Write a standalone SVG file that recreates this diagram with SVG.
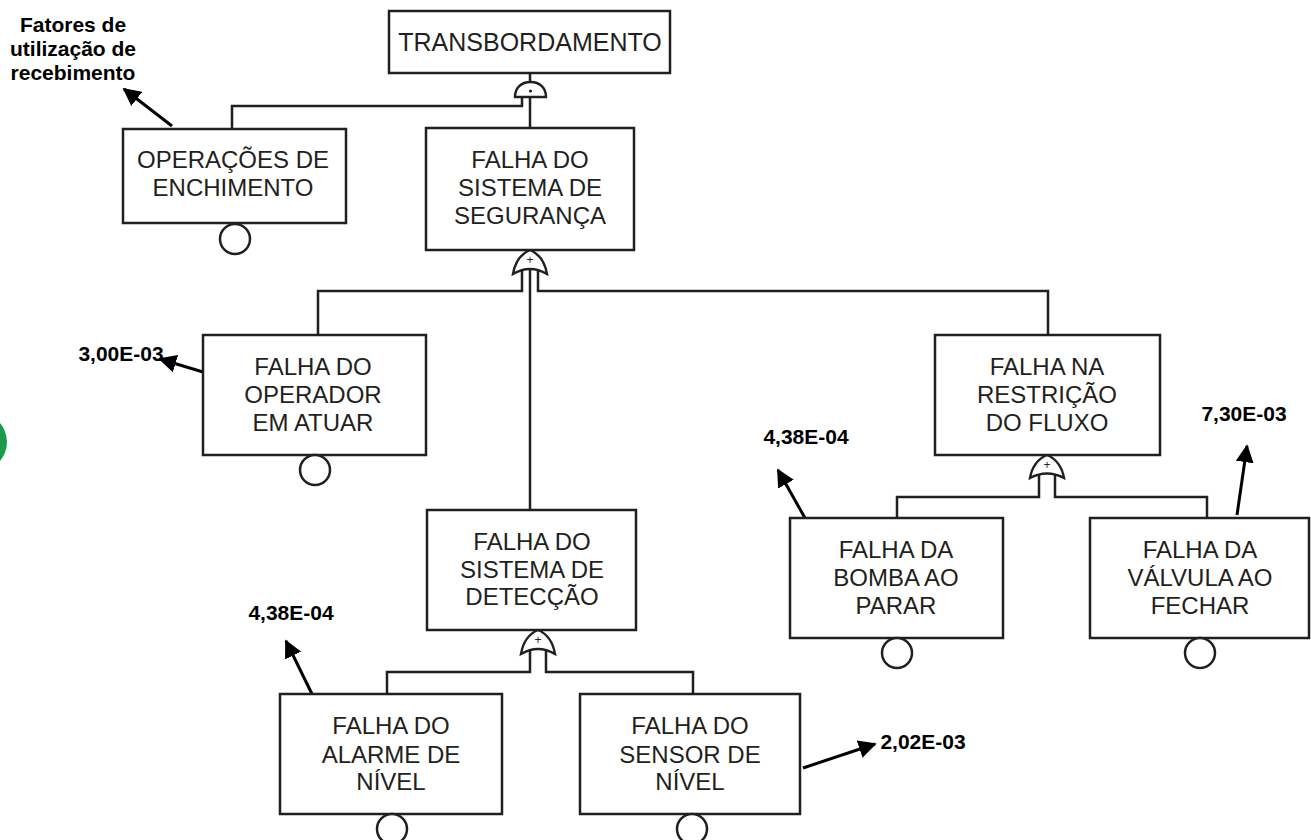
<svg xmlns="http://www.w3.org/2000/svg" width="1311" height="840" viewBox="0 0 1311 840">
<defs>
<style>
.box{fill:#fff;stroke:#231f20;stroke-width:2.5}
.t{font-family:"Liberation Sans",Arial,sans-serif;font-size:24px;fill:#231f20;text-anchor:middle}
.big{font-size:25px}
.lbl{font-family:"Liberation Sans",Arial,sans-serif;font-size:21px;font-weight:bold;fill:#000;text-anchor:middle}
.c{fill:#fff;stroke:#231f20;stroke-width:2.5}
.ln{fill:none;stroke:#231f20;stroke-width:2.5}
.g{fill:#fff;stroke:#231f20;stroke-width:2.4}
.arr{fill:none;stroke:#000;stroke-width:3;marker-end:url(#ah)}
.sym{font-family:"Liberation Sans",Arial,sans-serif;font-size:12px;fill:#231f20;text-anchor:middle}
</style>
<marker id="ah" viewBox="0 0 10 10" refX="9" refY="5" markerWidth="6" markerHeight="6" markerUnits="strokeWidth" orient="auto">
<path d="M0,0 L10,5 L0,10 Z" fill="#000"/>
</marker>
</defs>

<circle cx="-22" cy="442" r="29" fill="#1a9a4a"/>

<g id="connectors">
<path class="ln" d="M530,73 V84"/>
<path class="ln" d="M522,96 V106 H232 V129"/>
<path class="ln" d="M530,96 V128"/>
<path class="ln" d="M530,250 V258"/>
<path class="ln" d="M522,268 V291 H318 V335"/>
<path class="ln" d="M538,268 V291 H1048 V335"/>
<path class="ln" d="M530,266 V510"/>
<path class="ln" d="M1047,455 V462"/>
<path class="ln" d="M1039,473 V497 H897 V518"/>
<path class="ln" d="M1055,473 V497 H1207 V518"/>
<path class="ln" d="M538,630 V638"/>
<path class="ln" d="M530,648 V672 H387 V694"/>
<path class="ln" d="M546,648 V672 H693 V694"/>
<path class="arr" d="M172,126 L124,89"/>
<path class="arr" d="M203,372 L160,359"/>
<path class="arr" d="M805,518 L778,470"/>
<path class="arr" d="M1237,515 L1247,446"/>
<path class="arr" d="M312,694 L286,641"/>
<path class="arr" d="M803,768 L875,744"/>
</g>

<g id="gate-and-top">
<path class="g" d="M515,97 L546,97 C546,88 540,82 530.5,82 C521,82 515,88 515,97 Z"/>
<circle cx="530.5" cy="91" r="1.6" fill="#231f20"/>
</g>
<g id="gate-or-seg">
<path class="g" d="M530,250 Q544,256 547,274 Q530,264 513,274 Q516,256 530,250 Z"/>
<text class="sym" x="530" y="264">+</text>
</g>
<g id="gate-or-restr">
<path class="g" d="M1047,455 Q1061,461 1064,478 Q1047,469 1030,478 Q1033,461 1047,455 Z"/>
<text class="sym" x="1047" y="469">+</text>
</g>
<g id="gate-or-det">
<path class="g" d="M538,630 Q552,636 555,654 Q538,644 521,654 Q524,636 538,630 Z"/>
<text class="sym" x="538" y="644">+</text>
</g>

<g id="transbordamento">
<rect class="box" x="389" y="11" width="281" height="62"/>
<text class="t big" x="530" y="51">TRANSBORDAMENTO</text>
</g>

<g id="operacoes">
<rect class="box" x="123" y="129" width="223" height="94"/>
<text class="t" x="233" y="168">OPERAÇÕES DE</text>
<text class="t" x="233" y="196">ENCHIMENTO</text>
<circle class="c" cx="235" cy="239" r="15"/>
</g>

<g id="seguranca">
<rect class="box" x="426" y="128" width="208" height="122"/>
<text class="t" x="530" y="168">FALHA DO</text>
<text class="t" x="530" y="196">SISTEMA DE</text>
<text class="t" x="530" y="224">SEGURANÇA</text>
</g>

<g id="operador">
<rect class="box" x="203" y="335" width="223" height="120"/>
<text class="t" x="313" y="375">FALHA DO</text>
<text class="t" x="313" y="403">OPERADOR</text>
<text class="t" x="313" y="431">EM ATUAR</text>
<circle class="c" cx="315" cy="470" r="15"/>
</g>

<g id="restricao">
<rect class="box" x="935" y="335" width="225" height="120"/>
<text class="t" x="1047" y="375">FALHA NA</text>
<text class="t" x="1047" y="403">RESTRIÇÃO</text>
<text class="t" x="1047" y="431">DO FLUXO</text>
</g>

<g id="bomba">
<rect class="box" x="790" y="518" width="213" height="120"/>
<text class="t" x="896" y="558">FALHA DA</text>
<text class="t" x="896" y="586">BOMBA AO</text>
<text class="t" x="896" y="614">PARAR</text>
<circle class="c" cx="897" cy="653" r="15"/>
</g>

<g id="valvula">
<rect class="box" x="1090" y="518" width="219" height="120"/>
<text class="t" x="1200" y="558">FALHA DA</text>
<text class="t" x="1200" y="586">VÁLVULA AO</text>
<text class="t" x="1200" y="614">FECHAR</text>
<circle class="c" cx="1200" cy="653" r="15"/>
</g>

<g id="deteccao">
<rect class="box" x="427" y="510" width="209" height="120"/>
<text class="t" x="532" y="550">FALHA DO</text>
<text class="t" x="532" y="578">SISTEMA DE</text>
<text class="t" x="532" y="605">DETECÇÃO</text>
</g>

<g id="alarme">
<rect class="box" x="280" y="694" width="222" height="120"/>
<text class="t" x="391" y="734">FALHA DO</text>
<text class="t" x="391" y="763">ALARME DE</text>
<text class="t" x="391" y="790">NÍVEL</text>
<circle class="c" cx="392" cy="829" r="15"/>
</g>

<g id="sensor">
<rect class="box" x="580" y="694" width="220" height="120"/>
<text class="t" x="690" y="734">FALHA DO</text>
<text class="t" x="690" y="763">SENSOR DE</text>
<text class="t" x="690" y="790">NÍVEL</text>
<circle class="c" cx="692" cy="829" r="15"/>
</g>

<g id="labels">
<text class="lbl" x="73" y="32">Fatores de</text>
<text class="lbl" x="73" y="56">utilização de</text>
<text class="lbl" x="73" y="80">recebimento</text>
<text class="lbl" x="121" y="361">3,00E-03</text>
<text class="lbl" x="806" y="444">4,38E-04</text>
<text class="lbl" x="1244" y="421">7,30E-03</text>
<text class="lbl" x="291" y="620">4,38E-04</text>
<text class="lbl" x="923" y="749">2,02E-03</text>
</g>
</svg>
